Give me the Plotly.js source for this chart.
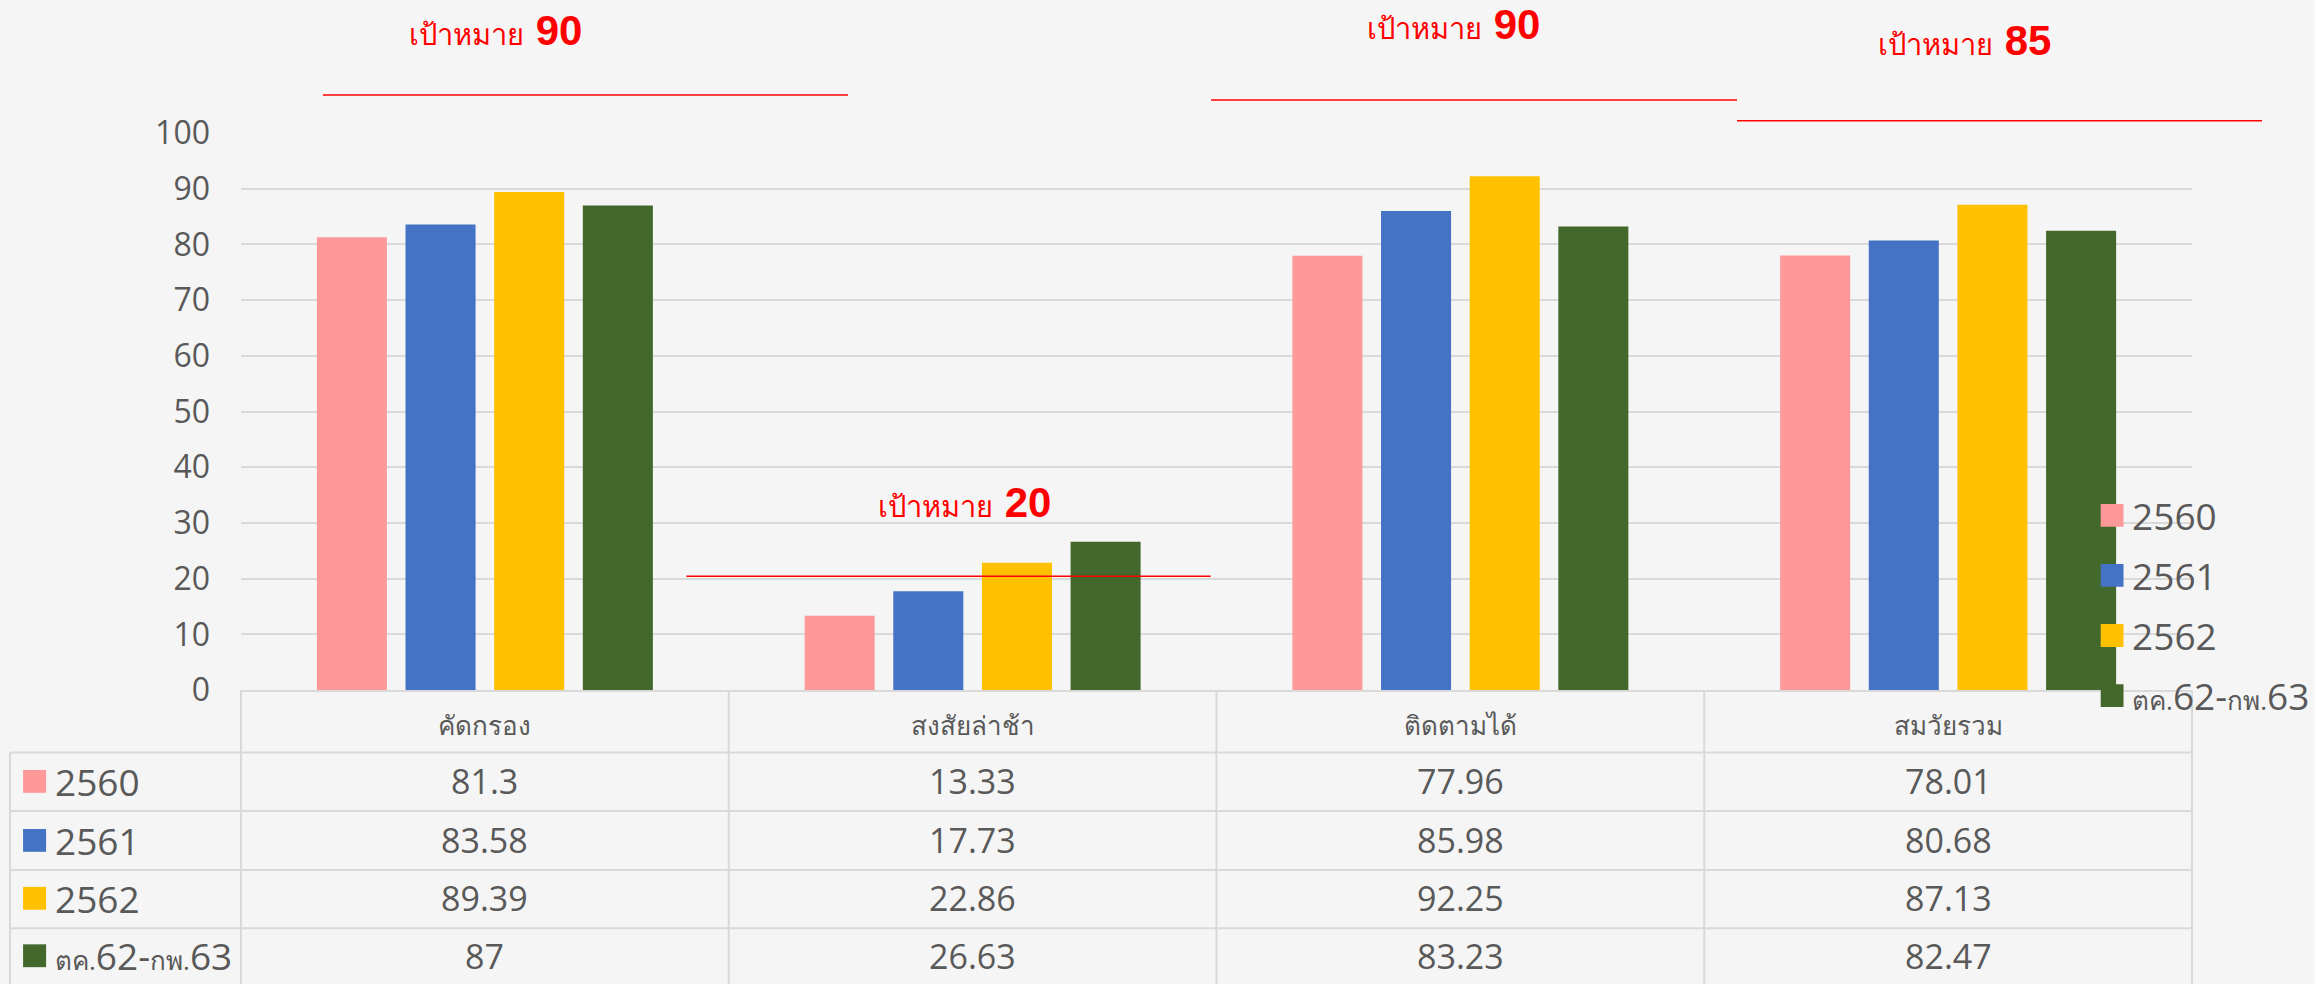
<!DOCTYPE html>
<html>
<head>
<meta charset="utf-8">
<script src="https://cdn.plot.ly/plotly-3.0.1.min.js"></script>
<style>
  html, body { margin: 0; padding: 0; background: #F5F5F5; }
  #chart { width: 2315px; height: 984px; }
</style>
</head>
<body>
<div id="chart"></div>
<script>
// ---- data ----
const categories = ["คัดกรอง", "สงสัยล่าช้า", "ติดตามได้", "สมวัยรวม"];
const seriesNames = ["2560", "2561", "2562", "ตค.62-กพ.63"];
const values2560 = [81.3, 13.33, 77.96, 78.01];
const values2561 = [83.58, 17.73, 85.98, 80.68];
const values2562 = [89.39, 22.86, 92.25, 87.13];
const valuesOct62Feb63 = [87, 26.63, 83.23, 82.47];
const targets = [90, 20, 90, 85];
const targetLabel = "เป้าหมาย";
const yTicks = [0, 10, 20, 30, 40, 50, 60, 70, 80, 90, 100];

// ---- styles ----
const colors = ["#FF9999", "#4472C4", "#FFC000", "#43682B"];
const textColor = "#595959";
const gridColor = "#D9D9D9";
const font = "'Open Sans', 'Noto Sans', sans-serif";

const allValues = [values2560, values2561, values2562, valuesOct62Feb63];

// Thai letters drawn smaller than the digits, as in the reference
function styledName(nm) {
  return nm.replace(/([\u0E00-\u0E7F]+\.?)/g, "<span style='font-size:26px'>$1</span>");
}

const traces = allValues.map((vals, i) => ({
  type: "bar",
  x: categories,
  y: vals,
  name: styledName(seriesNames[i]),
  legendgroup: "g" + i,
  marker: { color: colors[i], line: { width: 0 } },
  hovertemplate: "%{x}<br>" + seriesNames[i] + ": %{y}<extra></extra>"
}));

// table geometry (paper coords)
const rowCentersY = [-0.1641, -0.2700, -0.3740, -0.4771];
const rowLinesY = [-0.1121, -0.2174, -0.3232, -0.4278];
const tableBottom = -0.53;
const tableLeft = -0.1184;

const shapes = [];
const annotations = [];

rowLinesY.forEach(y => shapes.push({
  type: "line", xref: "paper", yref: "paper", x0: tableLeft, x1: 1, y0: y, y1: y,
  line: { color: gridColor, width: 2 }, layer: "below"
}));
[0, 0.25, 0.5, 0.75, 1].forEach(x => shapes.push({
  type: "line", xref: "paper", yref: "paper", x0: x, x1: x, y0: 0, y1: tableBottom,
  line: { color: gridColor, width: 2 }, layer: "below"
}));
shapes.push({
  type: "line", xref: "paper", yref: "paper", x0: tableLeft, x1: tableLeft, y0: rowLinesY[0], y1: tableBottom,
  line: { color: gridColor, width: 2 }, layer: "below"
});

seriesNames.forEach((nm, i) => {
  const yc = rowCentersY[i];
  shapes.push({
    type: "rect", xref: "paper", yref: "paper",
    x0: -0.1117, x1: -0.0999, y0: yc - 0.0205, y1: yc + 0.0205,
    fillcolor: colors[i], line: { width: 0 }
  });
  annotations.push({
    xref: "paper", yref: "paper", x: -0.0963, y: yc, xanchor: "left", yanchor: "middle",
    text: styledName(nm), showarrow: false, font: { family: font, size: 37, color: textColor }
  });
  allValues[i].forEach((v, j) => {
    annotations.push({
      xref: "x", yref: "paper", x: categories[j], y: yc, xanchor: "center", yanchor: "middle",
      text: String(v), showarrow: false, font: { family: font, size: 34, color: textColor }
    });
  });
});

// target lines and labels (decorative placement as in the reference)
const targetLinePos = [
  { x0: 0.0420, x1: 0.3111, y: 1.0682 },
  { x0: 0.2283, x1: 0.4970, y: 0.2041 },
  { x0: 0.4972, x1: 0.7668, y: 1.0592 },
  { x0: 0.7668, x1: 1.0359, y: 1.0221 }
];
const targetLabelPos = [
  { x: 0.1307, y: 1.1848 },
  { x: 0.3706, y: 0.3363 },
  { x: 0.6217, y: 1.1955 },
  { x: 0.8836, y: 1.1668 }
];
targets.forEach((t, i) => {
  const p = targetLinePos[i];
  shapes.push({
    type: "line", xref: "paper", yref: "paper", x0: p.x0, x1: p.x1, y0: p.y, y1: p.y,
    line: { color: "#FF0000", width: 1.5 }
  });
  const q = targetLabelPos[i];
  annotations.push({
    xref: "paper", yref: "paper", x: q.x, y: q.y, xanchor: "center", yanchor: "middle",
    text: "<span style='font-size:29px'>" + targetLabel + "</span> <b>" + t + "</b>", showarrow: false,
    font: { family: "'Liberation Sans', Arial, sans-serif", size: 42, color: "#FF0000" }
  });
});

const layout = {
  width: 2315, height: 984,
  paper_bgcolor: "#F5F5F5", plot_bgcolor: "#F5F5F5",
  margin: { l: 241, r: 123, t: 133, b: 293.5, autoexpand: false },
  barmode: "group", bargap: 0.273, bargroupgap: 0.21,
  font: { family: font, color: textColor },
  xaxis: {
    type: "category", showgrid: false, showline: true, linecolor: gridColor, linewidth: 2,
    ticks: "", tickfont: { family: font, size: 26, color: textColor }, ticklabelstandoff: 12,
    fixedrange: true
  },
  yaxis: {
    range: [0, 100], tickvals: yTicks, showgrid: true, gridcolor: gridColor, gridwidth: 2,
    zeroline: false, showline: false, ticks: "", ticklabelstandoff: 30,
    tickfont: { family: font, size: 32, color: textColor }, fixedrange: true
  },
  showlegend: true,
  legend: {
    x: 0.9488, y: 0.3685, xanchor: "left", yanchor: "top",
    bgcolor: "rgba(0,0,0,0)", font: { family: font, size: 37, color: textColor },
    traceorder: "grouped", tracegroupgap: 9, itemclick: false, itemdoubleclick: false
  },
  shapes: shapes,
  annotations: annotations
};

function enlargeLegendSymbols() {
  document.querySelectorAll("#chart .legend .legendpoints path").forEach(p => {
    const tr = p.getAttribute("transform") || "";
    if (tr.indexOf("scale") === -1) p.setAttribute("transform", tr + " scale(1.9)");
  });
}

const gd = document.getElementById("chart");
Plotly.newPlot(gd, traces, layout, { displayModeBar: false }).then(() => {
  enlargeLegendSymbols();
  gd.on("plotly_afterplot", enlargeLegendSymbols);
});
</script>
</body>
</html>
